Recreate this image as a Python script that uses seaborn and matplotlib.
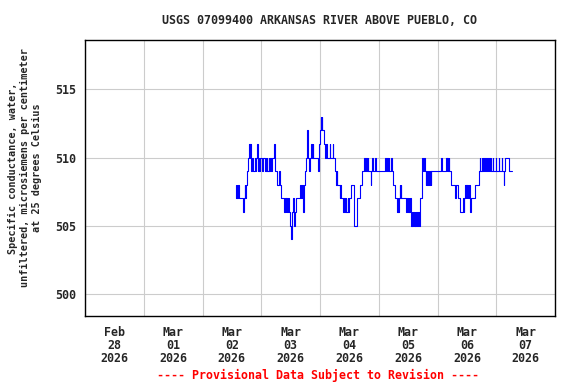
import pandas as pd
import matplotlib
matplotlib.use('Agg')
import matplotlib.pyplot as plt
import matplotlib.dates as mdates
from matplotlib.ticker import NullFormatter
import seaborn as sns

# --- data: 15-minute specific conductance, uS/cm ---
start_time = '2026-03-02 13:30'

mar02 = [508, 507,
         508, 507, 508, 507,  507, 507, 507, 507,  507, 507, 506, 506,
         507, 508, 507, 508,  508, 509, 509, 510,  511, 510, 511, 510,
         509, 510, 510, 509,  509, 509, 510, 509,  510, 511, 510, 509,
         510, 509, 510, 510]

mar03 = [510, 509, 509, 510,  510, 510, 509, 510,  509, 510, 509, 509,
         510, 509, 510, 510,  509, 510, 510, 510,  510, 511, 510, 509,
         509, 509, 508, 508,  508, 509, 508, 508,  508, 507, 507, 507,
         507, 506, 507, 507,  506, 507, 506, 507,  507, 506, 506, 505,
         505, 504, 505, 506,  507, 506, 505, 506,  507, 507, 507, 507,
         507, 507, 507, 507,  508, 507, 508, 508,  507, 506, 508, 509,
         509, 510, 512, 512,  511, 510, 509, 510,  510, 511, 511, 510,
         511, 510, 510, 510,  510, 510, 510, 510,  509, 509, 510, 511]

mar04 = [512, 513, 512, 513,  512, 512, 511, 511,  510, 511, 511, 510,
         510, 510, 510, 510,  511, 510, 510, 510,  510, 511, 510, 510,
         509, 509, 508, 509,  508, 508, 508, 508,  507, 508, 507, 507,
         507, 506, 506, 507,  507, 506, 507, 506,  506, 507, 506, 507,
         507, 507, 508, 508,  508, 508, 508, 507,  505, 505, 505, 505,
         506, 507, 507, 507,  507, 507, 508, 508,  508, 509, 509, 509,
         510, 509, 509, 510,  509, 509, 510, 509,  509, 509, 509, 508,
         509, 510, 509, 509,  509, 509, 510, 509,  509, 509, 509, 509]

mar05 = [509, 509, 509, 509,  509, 509, 509, 509,  509, 509, 509, 510,
         509, 509, 510, 509,  510, 509, 509, 509,  510, 509, 509, 508,
         508, 508, 508, 507,  507, 507, 506, 507,  506, 507, 508, 507,
         508, 507, 507, 507,  507, 507, 507, 507,  506, 506, 507, 506,
         506, 507, 506, 507,  507, 505, 506, 505,  506, 505, 505, 506,
         505, 506, 505, 505,  506, 505, 505, 507,  507, 507, 509, 510,
         510, 509, 510, 509,  509, 508, 509, 508,  508, 509, 508, 509,
         509, 508, 509, 509,  509, 509, 509, 509,  509, 509, 509, 509]

mar06 = [509, 509, 509, 509,  509, 509, 510, 509,  509, 509, 509, 509,
         509, 509, 510, 509,  510, 509, 510, 509,  509, 509, 508, 508,
         508, 508, 508, 508,  508, 507, 508, 508,  508, 508, 507, 507,
         507, 506, 506, 506,  506, 506, 507, 506,  507, 508, 507, 508,
         507, 508, 507, 508,  508, 506, 507, 507,  507, 507, 507, 507,
         507, 507, 508, 508,  508, 508, 508, 509,  509, 510, 509, 509,
         510, 509, 509, 510,  509, 509, 510, 509,  509, 510, 509, 509,
         510, 509, 509, 510,  509, 509, 510, 509,  509, 509, 509, 510]

mar07 = [509, 509, 509, 509,  510, 509, 509, 509,  509, 510, 509, 509,
         508, 509, 510, 510,  510, 510, 510, 510,  510, 509, 509, 509,
         509, 509, 509]

values = mar02 + mar03 + mar04 + mar05 + mar06 + mar07
times = pd.date_range(start_time, periods=len(values), freq='15min')
df = pd.DataFrame({'time': times, 'value': values})

title = 'USGS 07099400 ARKANSAS RIVER ABOVE PUEBLO, CO'
ylabel = ('Specific conductance, water,\n'
          'unfiltered, microsiemens per centimeter\n'
          'at 25 degrees Celsius')
footer = '---- Provisional Data Subject to Revision ----'
yticks = [500, 505, 510, 515]

# --- plot ---
sns.set_style('white')
plt.rcParams['font.family'] = ['DejaVu Sans Mono']
plt.rcParams['font.weight'] = 'bold'

fig = plt.figure(figsize=(5.76, 3.84), dpi=100)
ax = fig.add_axes([85 / 576, 68 / 384, 470 / 576, 276 / 384])

sns.lineplot(data=df, x='time', y='value', ax=ax, color='#0000ff',
             linewidth=0.8, drawstyle='steps-post')

ax.set_xlim(pd.Timestamp('2026-02-28'), pd.Timestamp('2026-03-08'))
ax.set_ylim(498.4, 518.6)
ax.set_yticks(yticks)

ax.xaxis.set_major_locator(mdates.DayLocator())
ax.xaxis.set_major_formatter(NullFormatter())
ax.xaxis.set_minor_locator(mdates.HourLocator(byhour=12))
ax.xaxis.set_minor_formatter(mdates.DateFormatter('%b\n%d\n%Y'))
ax.tick_params(axis='x', which='both', length=0, pad=7, labelsize=8.4)
ax.tick_params(axis='y', length=0, pad=6, labelsize=8.4)
for lbl in ax.get_xticklabels(minor=True):
    lbl.set_linespacing(1.0)

ax.grid(True, which='major', color='#cccccc', linewidth=0.8)
for s in ax.spines.values():
    s.set_color('black')
    s.set_linewidth(1.0)

ax.set_xlabel('')
ax.set_ylabel('')
fig.text(25 / 576, 1 - 168 / 384, ylabel, rotation=90, ha='center',
         va='center', multialignment='center', fontsize=7.3,
         fontweight='bold', linespacing=1.25)
fig.text(320 / 576, 1 - 20 / 384, title, ha='center', va='center',
         fontsize=8.4, fontweight='bold')
fig.text(318 / 576, 1 - 375 / 384, footer, ha='center', va='center',
         fontsize=8.4, fontweight='bold', color='red')

plt.savefig('out.png', dpi=100)
